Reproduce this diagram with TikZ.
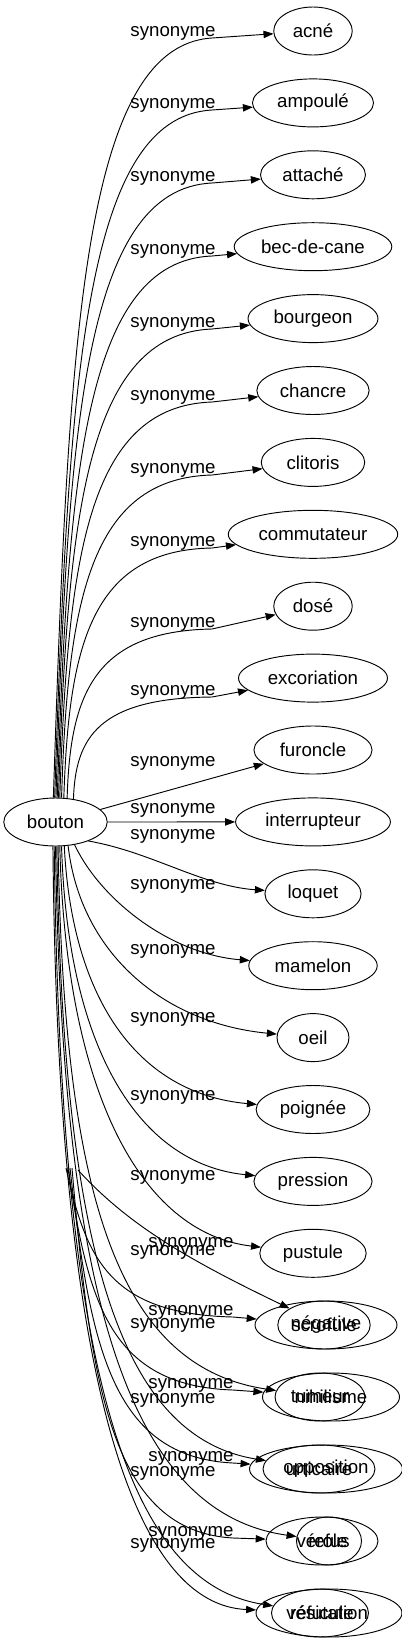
\documentclass[tikz,border=0pt]{standalone}
\usepackage{fontspec}
\setmainfont{Liberation Sans}
\usetikzlibrary{positioning,shapes.geometric,arrows.meta}

\begin{document}
\begin{tikzpicture}[x=0.75pt,y=-0.75pt,node distance=53.925pt,line width=0.7pt,
  >={Triangle[length=7.5pt,width=5.5pt]},
  every node/.style={font=\fontsize{14pt}{16pt}\selectfont,inner sep=0pt},
  word/.style={draw,ellipse,minimum height=36pt}]
\useasboundingbox (0,0) rectangle (402,1643);

% source word
\node[word,minimum width=77.6pt] (bouton) at (55.5,822) {bouton};

% one synonym per rank
\node[word,minimum width=58.9pt]  (acne) at (313,31) {acné};
\node[word,minimum width=90.8pt]  (ampoule)     [below of=acne]        {ampoulé};
\node[word,minimum width=78.7pt]  (attache)     [below of=ampoule]     {attaché};
\node[word,minimum width=118.2pt] (becdecane)   [below of=attache]     {bec-de-cane};
\node[word,minimum width=97.4pt]  (bourgeon)    [below of=becdecane]   {bourgeon};
\node[word,minimum width=84.2pt]  (chancre)     [below of=bourgeon]    {chancre};
\node[word,minimum width=77.6pt]  (clitoris)    [below of=chancre]     {clitoris};
\node[word,minimum width=127.1pt] (commutateur) [below of=clitoris]    {commutateur};
\node[word,minimum width=58.9pt]  (dose)        [below of=commutateur] {dosé};
\node[word,minimum width=111.7pt] (excoriation) [below of=dose]        {excoriation};
\node[word,minimum width=88.6pt]  (furoncle)    [below of=excoriation] {furoncle};
\node[word,minimum width=116.1pt] (interrupteur)[below of=furoncle]    {interrupteur};
\node[word,minimum width=72.1pt]  (loquet)      [below of=interrupteur]{loquet};
\node[word,minimum width=96.3pt]  (mamelon)     [below of=loquet]      {mamelon};
\node[word,minimum width=54pt]    (oeil)        [below of=mamelon]     {oeil};
\node[word,minimum width=85.3pt]  (poignee)     [below of=oeil]        {poignée};
\node[word,minimum width=88.6pt]  (pression)    [below of=poignee]     {pression};
\node[word,minimum width=79.8pt]  (pustule)     [below of=pression]    {pustule};

% overlapping pairs at the bottom
\node[word,minimum width=106.5pt]  (negative)   at (326,1325) {négative};
\node[word,minimum width=69pt]     (scrofule)   at (324,1325) {scrofule};
\node[word,minimum width=102.75pt] (nihilisme)  at (331,1397) {nihilisme};
\node[word,minimum width=67.5pt]   (tumeur)     at (320,1397) {tumeur};
\node[word,minimum width=114.75pt] (opposition) at (326,1469) {opposition};
\node[word,minimum width=84pt]     (urticaire)  at (319,1469) {urticaire};
\node[word,minimum width=84pt]     (verole)     at (322,1541) {vérole};
\node[word,minimum width=48.75pt]  (refus)      at (329,1541) {refus};
\node[word,minimum width=109.5pt]  (refutation) at (329,1613) {réfutation};
\node[word,minimum width=72.75pt]  (vesicule)   at (320,1613) {vésicule};

% edge labels
\node (l0) at (173,33) {synonyme};
\node (l1) at (173,105) {synonyme};
\node (l2) at (173,178) {synonyme};
\node (l3) at (173,251) {synonyme};
\node (l4) at (173,324) {synonyme};
\node (l5) at (173,397) {synonyme};
\node (l6) at (173,470) {synonyme};
\node (l7) at (173,543) {synonyme};
\node (l8) at (173,624) {synonyme};
\node (l9) at (173,692) {synonyme};
\node (l10) at (173,763) {synonyme};
\node (l11) at (173,810) {synonyme};
\node (l12) at (173,836) {synonyme};
\node (l13) at (173,886) {synonyme};
\node (l14) at (173,951) {synonyme};
\node (l15) at (173,1019) {synonyme};
\node (l16) at (173,1097) {synonyme};
\node (l17) at (173,1177) {synonyme};
\node (l18) at (173,1252) {synonyme};
\node (l19) at (173,1325) {synonyme};
\node (l20) at (173,1400) {synonyme};
\node (l21) at (173,1473) {synonyme};
\node (l22) at (173,1545) {synonyme};
\node (u18) at (191,1244) {synonyme};
\node (u19) at (191,1312) {synonyme};
\node (u20) at (191,1385) {synonyme};
\node (u21) at (191,1458) {synonyme};
\node (u22) at (191,1533) {synonyme};

% loose ends of the second bundle
\coordinate (tail1) at (66,1168);
\coordinate (tail2) at (68,1168);
\coordinate (tail3) at (70,1168);
\coordinate (tail4) at (72,1168);
\coordinate (tail5) at (78,1170);

\draw[->] (bouton.95) .. controls +(15,-456) and (82,46) .. (212,38) -- (acne);
\draw[->] (bouton.92) .. controls +(14,-413) and (83,117) .. (212,110) -- (ampoule);
\draw[->] (bouton.89) .. controls +(12,-369) and (84,189) .. (212,183) -- (attache);
\draw[->] (bouton.86) .. controls +(11,-325) and (85,261) .. (212,256) -- (becdecane);
\draw[->] (bouton.83) .. controls +(9,-281) and (86,334) .. (212,329) -- (bourgeon);
\draw[->] (bouton.80) .. controls +(8,-238) and (87,406) .. (212,402) -- (chancre);
\draw[->] (bouton.76) .. controls +(6,-194) and (89,478) .. (212,475) -- (clitoris);
\draw[->] (bouton.71) .. controls +(5,-150) and (90,550) .. (212,548) -- (commutateur);
\draw[->] (bouton.64) .. controls +(3,-102) and (93,631) .. (212,629) -- (dose);
\draw[->] (bouton.52) .. controls +(2,-61) and (98,698) .. (212,697) -- (excoriation);
\draw[->] (bouton) -- (furoncle);
\draw[->] (bouton) -- (interrupteur);
\draw[->] (bouton.-30) .. controls +(63,11) and (202,886) .. (loquet);
\draw[->] (bouton.-50) .. controls +(26,55) and (170,954) .. (mamelon);
\draw[->] (bouton.-62) .. controls +(12,106) and (162,1023) .. (oeil);
\draw[->] (bouton.-70) .. controls +(8,158) and (141,1094) .. (poignee);
\draw[->] (bouton.-76) .. controls +(6,201) and (138,1164) .. (pression);
\draw[->] (bouton.-80) .. controls +(6,244) and (140,1233) .. (pustule);
\draw[->] (bouton.-84) .. controls +(6,349) and (117,1367) .. (tumeur);
\draw[->] (bouton.-87) .. controls +(6,396) and (117,1437) .. (urticaire);
\draw[->] (bouton.-90) .. controls +(7,447) and (127,1513) .. (refus);
\draw[->] (bouton.-93) .. controls +(6,493) and (117,1582) .. (vesicule);
\draw[->] (bouton.-96) .. controls +(5,560) and (140,1605) .. (refutation);
\draw[->] (tail5) .. controls +(51,56) and (191,1261) .. (scrofule);
\draw[->] (tail1) .. controls +(20,89) and (108,1314) .. (233,1317) -- (negative);
\draw[->] (tail2) .. controls +(20,133) and (109,1386) .. (233,1390) -- (nihilisme);
\draw[->] (tail3) .. controls +(20,177) and (111,1457) .. (233,1463) -- (opposition);
\draw[->] (tail4) .. controls +(19,222) and (112,1531) .. (233,1538) -- (verole);
\end{tikzpicture}
\end{document}
